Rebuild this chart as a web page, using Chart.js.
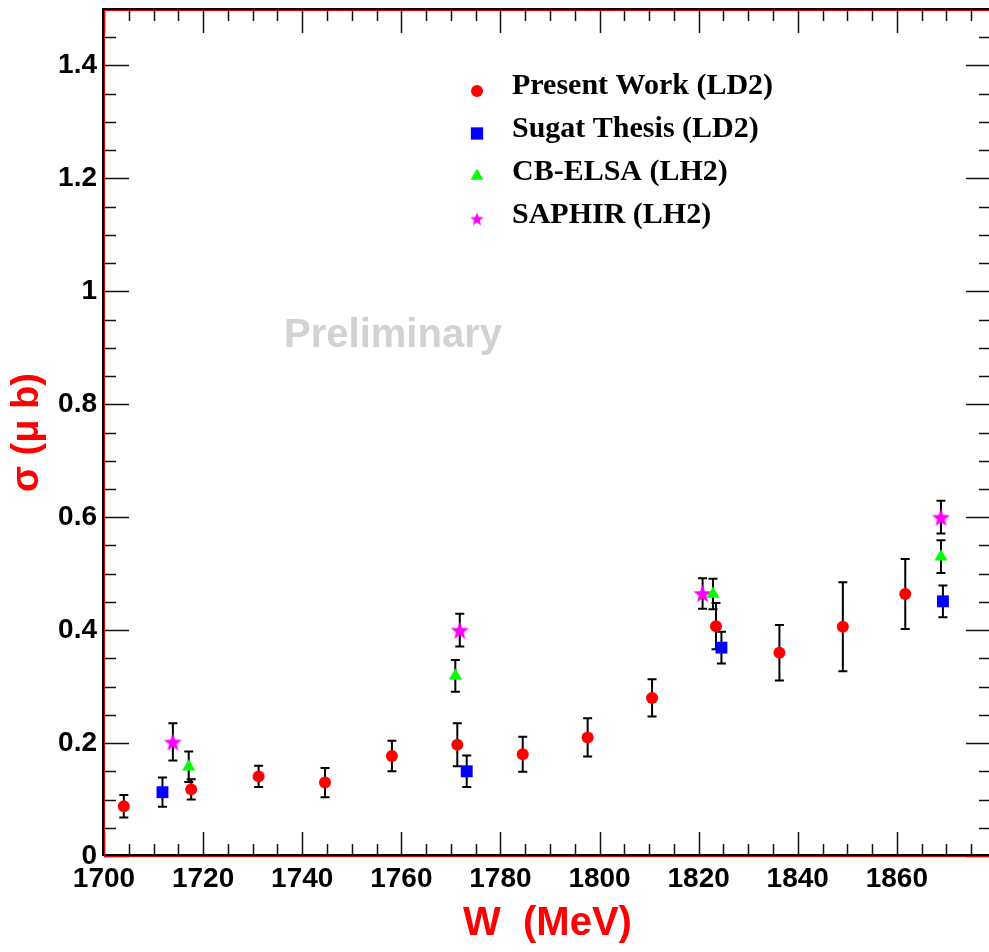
<!DOCTYPE html>
<html>
<head>
<meta charset="utf-8">
<title>Cross section vs W</title>
<script src="https://cdn.jsdelivr.net/npm/chart.js@4.4.1/dist/chart.umd.min.js"></script>
<style>
  html, body { margin: 0; padding: 0; overflow: hidden; background: #fff; }
  canvas { display: block; }
</style>
</head>
<body>
<!-- the canvas is a little wider than the window: the right edge of the frame falls just outside, as in the original -->
<canvas id="myChart" width="1000" height="952"></canvas>
<script>
// Present Work (LD2)
const presentW = [1704, 1717.6, 1731.2, 1744.6, 1758.1, 1771.3, 1784.5, 1797.6, 1810.6, 1823.5, 1836.3, 1849.1, 1861.7];
const presentSigma = [0.088, 0.118, 0.141, 0.130, 0.177, 0.197, 0.180, 0.210, 0.280, 0.407, 0.360, 0.406, 0.464];
const presentErr = [0.020, 0.018, 0.019, 0.026, 0.027, 0.038, 0.031, 0.034, 0.033, 0.041, 0.049, 0.079, 0.062];

// Sugat Thesis (LD2)
const sugatW = [1711.8, 1773.2, 1824.6, 1869.3];
const sugatSigma = [0.113, 0.150, 0.369, 0.451];
const sugatErr = [0.026, 0.028, 0.028, 0.028];

// CB-ELSA (LH2)
const elsaW = [1717.1, 1770.9, 1822.9, 1868.9];
const elsaSigma = [0.158, 0.319, 0.464, 0.530];
const elsaErr = [0.027, 0.028, 0.027, 0.029];

// SAPHIR (LH2)
const saphirW = [1713.9, 1771.8, 1820.8, 1868.9];
const saphirSigma = [0.202, 0.400, 0.465, 0.600];
const saphirErr = [0.033, 0.029, 0.027, 0.029];

// axis ranges
const xMin = 1700, xMax = 1879;
const yMin = 0, yMax = 1.5;

function toPoints(xs, ys) {
    return xs.map((x, i) => ({ x: x, y: ys[i] }));
}

// 5 pointed star marker, Chart.js only has an asterisk style
function makeStar(size, color) {
    const c = document.createElement('canvas');
    c.width = size;
    c.height = size;
    const g = c.getContext('2d');
    const ro = size / 2, ri = ro * 0.42;
    g.beginPath();
    for (let i = 0; i < 10; i++) {
        const r = i % 2 ? ri : ro;
        const a = -Math.PI / 2 + i * Math.PI / 5;
        g.lineTo(size / 2 + r * Math.cos(a), size / 2 + 1 + r * Math.sin(a));
    }
    g.closePath();
    g.fillStyle = color;
    g.fill();
    return c;
}

const starBig = makeStar(19, '#ff00ff');
const starSmall = makeStar(14, '#ff00ff');

// Error bars, drawn under the markers
const errorBars = {
    id: 'errorBars',
    beforeDatasetsDraw(chart) {
        const { ctx, scales: { x, y } } = chart;
        ctx.save();
        // watermark
        ctx.font = 'bold 40px "Liberation Sans", Arial, sans-serif';
        ctx.fillStyle = '#d2d2d2';
        ctx.textAlign = 'center';
        ctx.fillText('Preliminary', 393, 347);

        ctx.strokeStyle = '#000';
        ctx.lineWidth = 2;
        chart.data.datasets.forEach(ds => {
            ds.data.forEach((p, i) => {
                const px = x.getPixelForValue(p.x);
                const top = y.getPixelForValue(p.y + ds.errors[i]);
                const bot = y.getPixelForValue(p.y - ds.errors[i]);
                ctx.beginPath();
                ctx.moveTo(px, top); ctx.lineTo(px, bot);
                ctx.moveTo(px - 4.5, top); ctx.lineTo(px + 4.5, top);
                ctx.moveTo(px - 4.5, bot); ctx.lineTo(px + 4.5, bot);
                ctx.stroke();
            });
        });
        ctx.restore();
    }
};

// ROOT style frame with ticks on all four sides
const frame = {
    id: 'frame',
    afterDraw(chart) {
        const { ctx, chartArea: a, scales: { x, y } } = chart;
        ctx.save();
        ctx.strokeStyle = '#111';
        ctx.lineWidth = 1.5;
        ctx.beginPath();
        for (let w = xMin; w <= xMax; w += 5) {
            const px = Math.round(x.getPixelForValue(w)) + 0.5;
            const len = w % 20 === 0 ? 24 : 12;
            ctx.moveTo(px, a.bottom); ctx.lineTo(px, a.bottom - len);
            ctx.moveTo(px, a.top); ctx.lineTo(px, a.top + len);
        }
        for (let k = 0; k <= 30; k++) {
            const py = Math.round(y.getPixelForValue(k * 0.05)) + 0.5;
            const len = k % 4 === 0 ? 25 : 12;
            ctx.moveTo(a.left, py); ctx.lineTo(a.left + len, py);
            ctx.moveTo(a.right, py); ctx.lineTo(a.right - len, py);
        }
        ctx.stroke();

        // black pad frame + thin red axis lines
        ctx.fillStyle = '#000';
        ctx.fillRect(a.left - 2, a.top - 1, 2, a.bottom - a.top + 1);
        ctx.fillRect(a.left - 2, a.top - 1, a.right - a.left + 4, 2);
        ctx.fillRect(a.left - 2, a.bottom - 2, a.right - a.left + 4, 2);
        ctx.fillRect(a.right, a.top - 1, 2, a.bottom - a.top + 1);
        ctx.fillStyle = '#e00000';
        ctx.fillRect(a.left, a.top + 1, 1, a.bottom - a.top - 1);
        ctx.fillRect(a.left, a.top + 1, a.right - a.left, 1);
        ctx.fillRect(a.left, a.bottom, a.right - a.left, 1);
        ctx.restore();
    }
};

// Legend drawn inside the plot
const legendBox = {
    id: 'legendBox',
    afterDraw(chart) {
        const ctx = chart.ctx;
        ctx.save();
        chart.data.datasets.forEach((ds, i) => {
            const my = 91 + i * 42.5;
            ctx.fillStyle = ds.backgroundColor;
            Chart.helpers.drawPoint(ctx, {
                pointStyle: ds.legendStyle || ds.pointStyle,
                radius: ds.legendRadius,
                rotation: 0,
                borderWidth: 0
            }, 477, my);
            ctx.fillStyle = '#000';
            ctx.font = 'bold 30px "Liberation Serif", "Times New Roman", serif';
            ctx.textAlign = 'left';
            ctx.textBaseline = 'alphabetic';
            ctx.fillText(ds.label, 512, 94 + i * 43);
        });
        ctx.restore();
    }
};

const tickFont = { family: '"Liberation Sans", Arial, sans-serif', size: 28, weight: 'bold' };

const ctx = document.getElementById('myChart').getContext('2d');
const myChart = new Chart(ctx, {
    type: 'scatter',
    data: {
        datasets: [{
            label: 'Present Work (LD2)',
            data: toPoints(presentW, presentSigma),
            errors: presentErr,
            pointStyle: 'circle',
            pointRadius: 6,
            legendRadius: 6,
            backgroundColor: '#ff0000',
            borderWidth: 0
        }, {
            label: 'Sugat Thesis (LD2)',
            data: toPoints(sugatW, sugatSigma),
            errors: sugatErr,
            pointStyle: 'rect',
            pointRadius: 8.4,
            legendRadius: 8.7,
            backgroundColor: '#0000ff',
            borderWidth: 0
        }, {
            label: 'CB-ELSA (LH2)',
            data: toPoints(elsaW, elsaSigma),
            errors: elsaErr,
            pointStyle: 'triangle',
            pointRadius: 7.5,
            legendRadius: 7.3,
            backgroundColor: '#00ff00',
            borderWidth: 0
        }, {
            label: 'SAPHIR (LH2)',
            data: toPoints(saphirW, saphirSigma),
            errors: saphirErr,
            pointStyle: starBig,
            legendStyle: starSmall,
            pointRadius: 9,
            legendRadius: 7,
            backgroundColor: '#ff00ff',
            borderWidth: 0
        }]
    },
    options: {
        responsive: false,
        animation: false,
        events: [],
        layout: { padding: { top: 6, right: 1, left: 0, bottom: 0 } },
        plugins: {
            legend: { display: false },
            tooltip: { enabled: false }
        },
        scales: {
            x: {
                type: 'linear',
                min: xMin,
                max: xMax,
                grid: { display: false, drawTicks: false },
                border: { display: false },
                ticks: {
                    stepSize: 20,
                    includeBounds: false,
                    color: '#000',
                    font: tickFont,
                    padding: 6,
                    maxRotation: 0,
                    callback: v => String(v)
                },
                title: {
                    display: true,
                    text: 'W  (MeV)',
                    color: '#ff0000',
                    font: { family: '"Liberation Sans", Arial, sans-serif', size: 40, weight: 'bold' },
                    padding: { top: 0, bottom: 4 }
                },
                afterFit: s => { s.height = 96; s.paddingLeft = 0; s.paddingRight = 0; }
            },
            y: {
                type: 'linear',
                min: yMin,
                max: yMax,
                grid: { display: false, drawTicks: false },
                border: { display: false },
                ticks: {
                    stepSize: 0.2,
                    includeBounds: false,
                    color: '#000',
                    font: tickFont,
                    padding: 7,
                    callback: v => String(+v.toFixed(1))
                },
                title: {
                    display: true,
                    text: 'σ (μ b)',
                    color: '#ff0000',
                    font: { family: '"Liberation Sans", Arial, sans-serif', size: 38, weight: 'bold' },
                    padding: { top: 5, bottom: 0 }
                },
                afterFit: s => { s.width = 104; s.paddingTop = 0; s.paddingBottom = 0; }
            }
        }
    },
    plugins: [errorBars, frame, legendBox]
});
</script>
</body>
</html>
